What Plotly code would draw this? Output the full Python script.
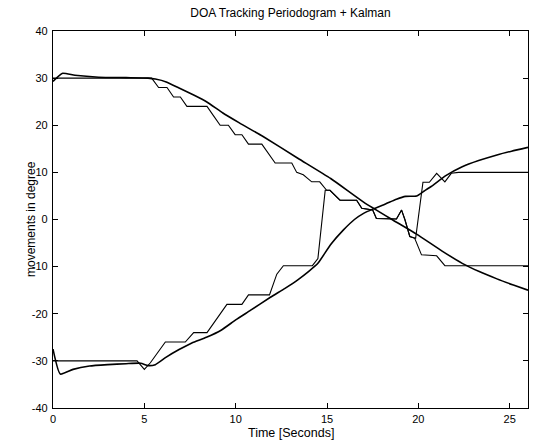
import plotly.graph_objects as go

# Kalman estimate, target 1 (30 -> -15)
kal1_t = [0, 0.5, 1.2, 2.5, 4.0, 5.2, 5.6, 6.2, 6.9, 7.7, 8.4, 9.3, 10.2, 11.5, 13.4, 15.2, 17.0, 18.6, 19.9, 21.3, 22.4, 23.3, 24.3, 25.2, 26.0]
kal1_v = [29.3, 31.0, 30.6, 30.2, 30.1, 30.0, 29.8, 29.2, 27.9, 26.4, 25.0, 22.6, 20.5, 17.6, 13.0, 8.7, 3.7, -0.1, -3.1, -6.7, -9.3, -11.0, -12.6, -13.9, -15.0]

# Kalman estimate, target 2 (-30 -> 15)
kal2_t = [0, 0.4, 1.1, 2.0, 3.0, 4.0, 4.8, 5.2, 5.6, 6.2, 6.9, 7.6, 8.4, 9.2, 10.0, 10.8, 11.9, 12.7, 13.4, 14.0, 14.5, 15.2, 15.9, 16.5, 17.0, 17.5, 18.2, 18.8, 19.3, 19.9, 20.3, 20.7, 21.5, 22.4, 23.3, 24.3, 25.1, 26.0]
kal2_v = [-27.5, -32.8, -31.8, -31.1, -30.8, -30.6, -30.5, -31.0, -30.8, -29.2, -27.6, -26.2, -25.0, -23.5, -21.3, -19.3, -16.5, -14.6, -12.8, -11.0, -9.3, -5.3, -2.2, 0.0, 1.3, 2.2, 3.3, 4.3, 4.9, 5.0, 6.0, 7.0, 9.3, 11.2, 12.5, 13.7, 14.5, 15.3]

# Periodogram estimate 1 (stepped)
per1_t = [0, 5.4, 5.78, 6.24, 6.6, 6.97, 7.33, 8.43, 8.79, 9.15, 9.6, 9.97, 10.34, 10.7, 11.43, 12.16, 13.07, 13.34, 13.7, 14.16, 14.6, 14.98, 15.16, 15.71, 16.62, 16.9, 17.5, 17.7, 18.8, 19.08, 19.26, 19.53, 19.8, 20.17, 21.0, 21.45, 26.0]
per1_v = [30, 30, 28, 28, 26, 26, 24, 24, 22, 20, 20, 18, 18, 16, 16, 12, 12, 10, 9.5, 8, 8, 6.2, 6.2, 4.1, 4.1, 2.4, 2.0, 0.2, 0.1, 2.0, 0.0, -3.6, -4.0, -7.5, -7.7, -9.8, -9.8]

# Periodogram estimate 2 (stepped)
per2_t = [0, 4.6, 5.0, 5.33, 6.15, 7.24, 7.7, 8.43, 9.52, 10.34, 10.7, 11.85, 12.25, 12.61, 14.2, 14.5, 14.9, 15.16, 15.71, 16.62, 16.9, 17.5, 17.7, 18.8, 19.08, 19.26, 19.53, 19.85, 20.25, 20.6, 21.0, 21.45, 21.8, 22.2, 26.0]
per2_v = [-30, -30, -31.8, -30.4, -26, -26, -24, -24, -18, -18, -16, -16, -11.6, -9.8, -9.8, -8.3, 6.2, 6.2, 4.1, 4.1, 2.4, 2.0, 0.2, 0.1, 2.0, 0.0, -3.6, -4.0, 7.9, 7.9, 9.8, 8.0, 9.8, 10.0, 10.0]

x_ticks = [0, 5, 10, 15, 20, 25]
y_ticks = [-40, -30, -20, -10, 0, 10, 20, 30, 40]
y_tick_labels = ["-40", "-30", "-20", "-10", "0", "10", "20", "30", "40"]

FONT = "Liberation Sans, Arial, sans-serif"

fig = go.Figure()
line_p = dict(color="black", width=1.1)
line_k = dict(color="black", width=1.6, shape="spline", smoothing=0.5)
fig.add_trace(go.Scatter(x=per1_t, y=per1_v, mode="lines", line=line_p, hoverinfo="skip"))
fig.add_trace(go.Scatter(x=per2_t, y=per2_v, mode="lines", line=line_p, hoverinfo="skip"))
fig.add_trace(go.Scatter(x=kal1_t, y=kal1_v, mode="lines", line=line_k, hoverinfo="skip"))
fig.add_trace(go.Scatter(x=kal2_t, y=kal2_v, mode="lines", line=line_k, hoverinfo="skip"))

axis_common = dict(
    showgrid=False, zeroline=False, showline=True, linecolor="black", linewidth=1.2,
    mirror="allticks", ticks="inside", ticklen=5, tickcolor="black", tickwidth=1,
    tickfont=dict(family=FONT, size=11, color="black"),
)

L, R, T, B = 52.5, 12, 31, 36
PW, PH = 540 - L - R, 444 - T - B

fig.update_layout(
    width=540, height=444,
    margin=dict(l=L, r=R, t=T, b=B, autoexpand=False),
    paper_bgcolor="white", plot_bgcolor="white",
    showlegend=False,
    title=dict(text="DOA Tracking Periodogram + Kalman", x=0.5, xref="paper",
               y=1 - 13 / 444, yref="container", yanchor="middle", xanchor="center",
               font=dict(family=FONT, size=12, color="black")),
    xaxis=dict(range=[0, 26], tickvals=x_ticks, ticklabelstandoff=1, **axis_common),
    yaxis=dict(range=[-40, 40], tickvals=y_ticks, ticktext=y_tick_labels,
               ticklabelstandoff=2, **axis_common),
)
fig.add_annotation(text="Time [Seconds]", xref="paper", x=0.5, yref="paper",
                   y=-(433 - (444 - B)) / PH, yanchor="middle", showarrow=False,
                   font=dict(family=FONT, size=12.5, color="black"))
fig.add_annotation(text="movements in degree", textangle=-90, xref="paper",
                   x=-(L - 30) / PW, xanchor="center", yref="paper", y=0.5,
                   yanchor="middle", showarrow=False,
                   font=dict(family=FONT, size=12, color="black"))

fig.write_html("out.html", config={"displayModeBar": False},
               post_script="document.body.style.margin='0';")
